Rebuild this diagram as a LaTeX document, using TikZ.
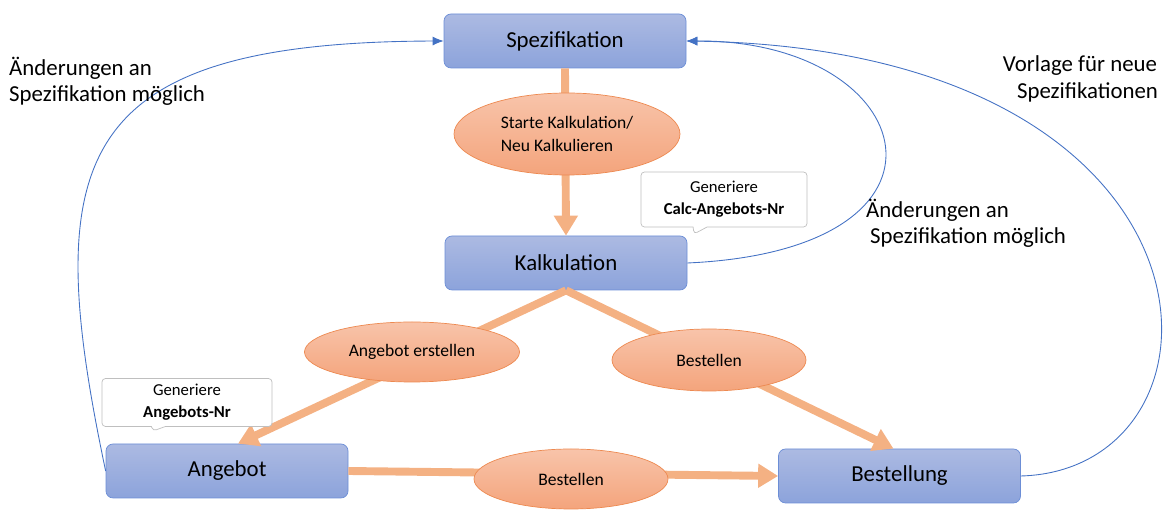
\documentclass[tikz,border=0pt]{standalone}
\usepackage{fontspec}
\setmainfont{Carlito}
\usetikzlibrary{arrows.meta,shapes.geometric,shapes.callouts}
\definecolor{boxtop}{RGB}{172,186,226}
\definecolor{boxbot}{RGB}{140,163,219}
\definecolor{boxline}{RGB}{108,142,214}
\definecolor{elltop}{RGB}{248,196,170}
\definecolor{ellbot}{RGB}{244,164,124}
\definecolor{ellline}{RGB}{237,137,80}
\definecolor{flow}{RGB}{244,177,131}
\definecolor{back}{RGB}{68,114,196}
\tikzset{
  stage/.style={rectangle,rounded corners=4pt,draw=boxline,top color=boxtop,bottom color=boxbot,
    minimum width=4.84cm,minimum height=1.08cm,font=\fontsize{13}{15}\selectfont},
  action/.style={ellipse,draw=ellline,top color=elltop,bottom color=ellbot,inner sep=0pt,
    align=left,font=\fontsize{10}{13}\selectfont},
  hint/.style={rectangle callout,rounded corners=2pt,draw=black!25,fill=white,align=center,
    callout pointer width=0.28cm,font=\fontsize{9.5}{12.5}\selectfont},
  flowline/.style={line width=4.5pt,draw=flow,-{Triangle[length=0.4cm,width=0.46cm]}},
  backline/.style={draw=back,line width=0.5pt,-{Latex[length=2.2mm,width=1.8mm]}},
  note/.style={font=\fontsize{13}{15}\selectfont}
}
\begin{document}
\begin{tikzpicture}
   \useasboundingbox (0,0) rectangle (23.28,-10.2);
   % stages
   \node[stage] (spez) at (11.3,-0.82) {Spezifikation};
   \node[stage] (kalk) at (11.32,-5.26) {Kalkulation};
   \node[stage] (angebot) at (4.54,-9.42) {Angebot};
   \node[stage] (bestellung) at (17.99,-9.52) {Bestellung};
   % forward flow
   \draw[flowline] (spez.south) -- (kalk.north);
   \draw[flowline] (kalk.south) -- ([xshift=0.22cm]angebot.north);
   \draw[flowline] (kalk.south) -- ([xshift=-0.12cm]bestellung.north);
   \draw[flowline] (angebot.east) -- (bestellung.west);
   % actions on the arrows
   \node[action,minimum width=4.52cm,minimum height=1.64cm] (ekalk) at (11.34,-2.68) {Starte Kalkulation/\\Neu Kalkulieren};
   \node[action,minimum width=4.3cm,minimum height=1.2cm] (eangebot) at (8.24,-7.04) {Angebot erstellen};
   \node[action,minimum width=3.88cm,minimum height=1.24cm] (ebestellen) at (14.18,-7.2) {Bestellen};
   \node[action,minimum width=3.88cm,minimum height=1.2cm] (ebestellen2) at (11.42,-9.58) {Bestellen};
   % callouts
   \node[hint,minimum width=3.32cm,minimum height=1.1cm,callout absolute pointer={(13.88,-4.68)}] (ccalc) at (14.48,-3.99) {Generiere\\\textbf{Calc-Angebots-Nr}};
   \node[hint,minimum width=3.4cm,minimum height=0.9cm,callout absolute pointer={(3.06,-8.62)}] (cang) at (3.74,-8.05) {Generiere\\\textbf{Angebots-Nr}};
   % way back to the specification
   \draw[backline] (angebot.west) .. controls (0.8,-3.2) and (1.4,-0.84) .. (spez.west);
   \draw[backline] (kalk.east) .. controls (19.6,-5.0) and (18.4,-0.8) .. (spez.east);
   \draw[backline] (bestellung.east) .. controls (24.9,-9.4) and (24.9,-1.0) .. (spez.east);
   % notes
   \node[note,anchor=west,align=left] (nleft) at (0.06,-1.62) {Änderungen an\\Spezifikation möglich};
   \node[note,anchor=west,align=left] (nmid) at (17.2,-4.46) {Änderungen an\\\hspace*{0.08cm}Spezifikation möglich};
   \node[note,align=center] (nright) at (21.6,-1.58) {Vorlage für neue\\\hspace*{0.3cm}Spezifikationen};
\end{tikzpicture}
\end{document}
